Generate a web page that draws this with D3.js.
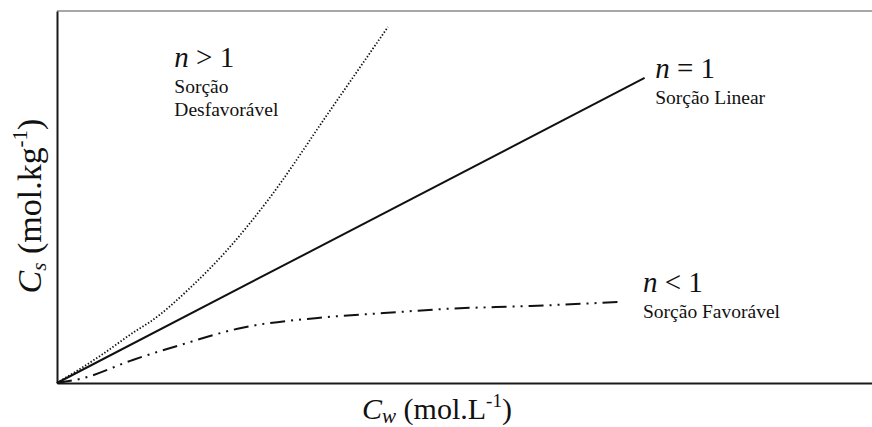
<!DOCTYPE html>
<html>
<head>
<meta charset="utf-8">
<script src="https://cdn.jsdelivr.net/npm/d3@7/dist/d3.min.js"></script>
<style>
  html, body { margin: 0; padding: 0; background: #fff; }
  svg { display: block; }
</style>
</head>
<body>
<svg id="chart" width="872" height="427"></svg>
<script>
// Sorption isotherm shapes (Freundlich exponent n), arbitrary units
const linearX = [0, 7.21];
const linearY = [0, 8.2];

const unfavX = [0, 0.53, 0.98, 1.14, 1.63, 2.09, 2.59, 3.33, 4.06];
const unfavY = [0, 0.73, 1.42, 1.64, 2.55, 3.58, 4.92, 7.26, 9.57];

const favX = [0, 0.32, 0.93, 1.51, 2.26, 3.20, 4.01, 4.75, 5.81, 6.93];
const favY = [0, 0.13, 0.62, 1.02, 1.48, 1.75, 1.88, 1.99, 2.07, 2.18];

// Curve labels: anchor in data units, exponent relation, description lines
const labelKeys = ["unfav", "linear", "fav"];
const labelRel = ["> 1", "= 1", "< 1"];
const labelText = [["Sorção", "Desfavorável"], ["Sorção Linear"], ["Sorção Favorável"]];
const labelPosX = [1.44, 7.34, 7.19];
const labelPosY = [8.5, 8.2, 2.45];

const FONT = "'Liberation Serif', 'DejaVu Serif', serif";

const svg = d3.select("#chart");
const W = 872, H = 427;
const m = { left: 57, right: 0, top: 11, bottom: 44 };

const x = d3.scaleLinear().domain([0, 10]).range([m.left, W - m.right]);
const y = d3.scaleLinear().domain([0, 10]).range([H - m.bottom, m.top]);

// Frame: top rule, left and bottom axes without ticks
svg.append("line")
  .attr("x1", x(0)).attr("x2", x(10))
  .attr("y1", y(10)).attr("y2", y(10))
  .attr("stroke", "#8a8a8a").attr("stroke-width", 1.5);

const gx = svg.append("g").attr("transform", `translate(0,${y(0)})`)
  .call(d3.axisBottom(x).tickValues([]).tickSizeOuter(0));
const gy = svg.append("g").attr("transform", `translate(${x(0)},0)`)
  .call(d3.axisLeft(y).tickValues([]).tickSizeOuter(0));
[gx, gy].forEach(g => g.select(".domain").attr("stroke", "#1a1a1a").attr("stroke-width", 2));

const line = d3.line().x(d => x(d[0])).y(d => y(d[1]));
const smooth = d3.line().x(d => x(d[0])).y(d => y(d[1])).curve(d3.curveMonotoneX);

const zip = (a, b) => a.map((v, i) => [v, b[i]]);

svg.append("path").datum(zip(linearX, linearY))
  .attr("d", line).attr("fill", "none")
  .attr("stroke", "#111").attr("stroke-width", 2);

svg.append("path").datum(zip(unfavX, unfavY))
  .attr("d", smooth).attr("fill", "none")
  .attr("stroke", "#111").attr("stroke-width", 1.8)
  .attr("stroke-dasharray", "1.4,1.9");

svg.append("path").datum(zip(favX, favY))
  .attr("d", smooth).attr("fill", "none")
  .attr("stroke", "#111").attr("stroke-width", 2)
  .attr("stroke-dasharray", "15,6,2,6,2,6");

// Labels
labelKeys.forEach((k, i) => {
  const g = svg.append("g").attr("transform", `translate(${x(labelPosX[i])},${y(labelPosY[i])})`);
  const t = g.append("text").attr("font-family", FONT).attr("font-size", 29).attr("fill", "#111");
  t.append("tspan").attr("font-style", "italic").text("n");
  t.append("tspan").text(" " + labelRel[i]);
  labelText[i].forEach((s, j) => {
    g.append("text").attr("font-family", FONT).attr("fill", "#111")
      .attr("y", 26 + j * 23).attr("font-size", 19.5).text(s);
  });
});

// Axis titles
const xt = svg.append("text")
  .attr("font-family", FONT).attr("fill", "#111")
  .attr("x", 437).attr("y", 419)
  .attr("text-anchor", "middle").attr("font-size", 30);
xt.append("tspan").attr("font-style", "italic").text("C");
xt.append("tspan").attr("font-style", "italic").attr("font-size", 21).attr("dy", 4).text("w");
xt.append("tspan").attr("dy", -4).text(" (mol.L");
xt.append("tspan").attr("font-size", 19).attr("dy", -12).text("-1");
xt.append("tspan").attr("dy", 12).text(")");

const yt = svg.append("text")
  .attr("font-family", FONT).attr("fill", "#111")
  .attr("transform", "translate(41,206) rotate(-90)")
  .attr("text-anchor", "middle").attr("font-size", 34);
yt.append("tspan").attr("font-style", "italic").text("C");
yt.append("tspan").attr("font-style", "italic").attr("font-size", 21).attr("dy", 5).text("s");
yt.append("tspan").attr("dy", -5).text(" (mol.kg");
yt.append("tspan").attr("font-size", 21).attr("dy", -14).text("-1");
yt.append("tspan").attr("dy", 14).text(")");
</script>
</body>
</html>
